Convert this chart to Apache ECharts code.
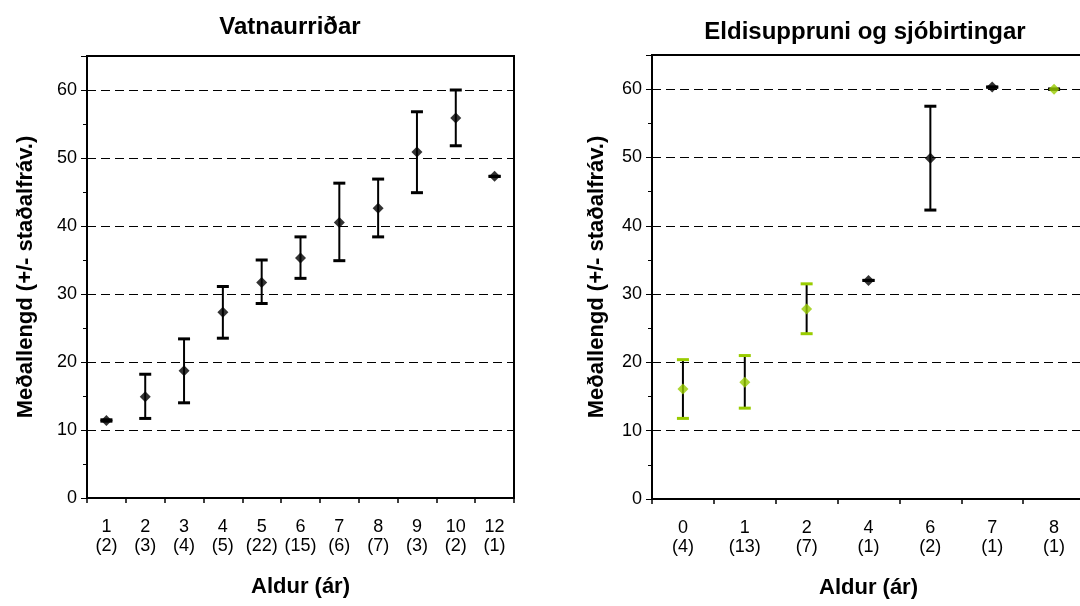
<!DOCTYPE html>
<html>
<head>
<meta charset="utf-8">
<script src="https://cdn.jsdelivr.net/npm/echarts@6/dist/echarts.min.js"></script>
<style>
html,body{margin:0;padding:0;background:#fff;}
#c{width:1080px;height:606px;}
</style>
</head>
<body>
<div id="c"></div>
<script>
// ---- Left panel: Vatnaurriðar ----
var leftAges  = ['1','2','3','4','5','6','7','8','9','10','12'];
var leftCount = ['2','3','4','5','22','15','6','7','3','2','1'];
var leftMean  = [11.4, 14.9, 18.7, 27.3, 31.7, 35.3, 40.5, 42.6, 50.9, 55.9, 47.3];
var leftLow   = [11.3, 11.7, 14.0, 23.5, 28.6, 32.3, 34.9, 38.4, 44.9, 51.8, 47.3];
var leftHigh  = [11.5, 18.2, 23.4, 31.1, 35.0, 38.4, 46.3, 46.9, 56.8, 60.0, 47.3];

// ---- Right panel: Eldisuppruni og sjóbirtingar ----
var rightAges  = ['0','1','2','4','6','7','8'];
var rightCount = ['4','13','7','1','2','1','1'];
var rightMean  = [16.1, 17.1, 27.8, 32.0, 49.9, 60.3, 60.0];
var rightLow   = [11.8, 13.3, 24.2, 32.0, 42.3, 60.3, 60.0];
var rightHigh  = [20.4, 21.0, 31.5, 32.0, 57.5, 60.3, 60.0];
var rightGroup = ['g','g','g','b','b','b','g'];   // g = green marker, b = black marker

var yTicks = [0, 10, 20, 30, 40, 50, 60];

var GREEN = '#99cc00', BLACK = '#000000';
var FONT = '"Liberation Sans", Arial, sans-serif';

function makeLabels(ages, counts) {
  return ages.map(function (a, i) { return a + '\n(' + counts[i] + ')'; });
}
function errData(low, high) {
  return low.map(function (l, i) { return [i, l, high[i]]; });
}
function meanData(mean) {
  return mean.map(function (m, i) { return [i, m]; });
}

function errRenderer(groups) {
  return function (params, api) {
    var i = api.value(0);
    var lo = api.coord([i, api.value(1)]);
    var hi = api.coord([i, api.value(2)]);
    var hw = 6;
    var capColor = BLACK;
    if (groups && groups[i] === 'g' && api.value(2) > api.value(1)) capColor = GREEN;
    return {
      type: 'group',
      children: [
        { type: 'line', shape: { x1: hi[0], y1: hi[1], x2: lo[0], y2: lo[1] },
          style: { stroke: BLACK, lineWidth: 2 } },
        { type: 'line', shape: { x1: hi[0] - hw, y1: hi[1], x2: hi[0] + hw, y2: hi[1] },
          style: { stroke: capColor, lineWidth: 3 } },
        { type: 'line', shape: { x1: lo[0] - hw, y1: lo[1], x2: lo[0] + hw, y2: lo[1] },
          style: { stroke: capColor, lineWidth: 3 } }
      ]
    };
  };
}

function xAxisDef(gridIndex, labels, nameGap) {
  return {
    type: 'category', gridIndex: gridIndex, data: labels, boundaryGap: true,
    name: 'Aldur (ár)', nameLocation: 'middle', nameGap: nameGap,
    nameTextStyle: { fontFamily: FONT, fontSize: 22, fontWeight: 'bold', color: '#000' },
    axisLine: { show: true, lineStyle: { color: '#000', width: 2 } },
    axisTick: { show: true, alignWithLabel: false, length: 5, lineStyle: { color: '#000', width: 1.5 } },
    axisLabel: { interval: 0, fontFamily: FONT, fontSize: 18, lineHeight: 19, color: '#000', margin: 20 },
    splitLine: { show: false }
  };
}
function yAxisMain(gridIndex, nameGap) {
  return {
    type: 'value', gridIndex: gridIndex, position: 'left', min: 0, max: 65, interval: 10,
    name: 'Meðallengd (+/- staðalfráv.)', nameLocation: 'middle', nameGap: nameGap,
    nameTextStyle: { fontFamily: FONT, fontSize: 22, fontWeight: 'bold', color: '#000' },
    axisLine: { show: true, lineStyle: { color: '#000', width: 2 } },
    axisTick: { show: true, length: 6, lineStyle: { color: '#000', width: 1 } },
    axisLabel: {
      fontFamily: FONT, fontSize: 18, color: '#000', margin: 10,
      formatter: function (v) { return yTicks.indexOf(v) >= 0 ? String(v) : ''; }
    },
    splitLine: { show: true, lineStyle: { color: '#000', width: 1, type: [9, 5] } }
  };
}
function yAxisMinor(gridIndex) {
  return {
    type: 'value', gridIndex: gridIndex, position: 'left', min: 0, max: 65, interval: 5,
    axisLine: { show: false },
    axisTick: { show: true, length: 4, lineStyle: { color: '#000', width: 1 } },
    axisLabel: { show: false },
    splitLine: { show: false }
  };
}

var chart = echarts.init(document.getElementById('c'), null, { renderer: 'canvas' });
chart.setOption({
  backgroundColor: '#fff',
  animation: false,
  title: [
    { text: 'Vatnaurriðar', left: 290, top: 15, textAlign: 'center', padding: 0,
      textStyle: { fontFamily: FONT, fontSize: 24, fontWeight: 'bold', color: '#000' } },
    { text: 'Eldisuppruni og sjóbirtingar', left: 865, top: 20, textAlign: 'center', padding: 0,
      textStyle: { fontFamily: FONT, fontSize: 24, fontWeight: 'bold', color: '#000' } }
  ],
  grid: [
    { left: 87, right: 566, top: 56, bottom: 108, show: true, borderColor: '#000', borderWidth: 2,
      backgroundColor: 'transparent', containLabel: false, outerBoundsMode: 'none' },
    { left: 652, right: -5, top: 55, bottom: 107, show: true, borderColor: '#000', borderWidth: 2,
      backgroundColor: 'transparent', containLabel: false, outerBoundsMode: 'none' }
  ],
  xAxis: [
    xAxisDef(0, makeLabels(leftAges, leftCount), 78),
    xAxisDef(1, makeLabels(rightAges, rightCount), 78)
  ],
  yAxis: [
    yAxisMain(0, 50), yAxisMinor(0),
    yAxisMain(1, 44), yAxisMinor(1)
  ],
  series: [
    { type: 'custom', xAxisIndex: 0, yAxisIndex: 0, data: errData(leftLow, leftHigh),
      renderItem: errRenderer(null), z: 3, silent: true },
    { type: 'scatter', xAxisIndex: 0, yAxisIndex: 0, data: meanData(leftMean),
      symbol: 'diamond', symbolSize: 11, itemStyle: { color: BLACK }, z: 4 },
    { type: 'custom', xAxisIndex: 1, yAxisIndex: 2, data: errData(rightLow, rightHigh),
      renderItem: errRenderer(rightGroup), z: 3, silent: true },
    { type: 'scatter', xAxisIndex: 1, yAxisIndex: 2, data: meanData(rightMean),
      symbol: 'diamond', symbolSize: 11, z: 4,
      itemStyle: { color: function (p) { return rightGroup[p.dataIndex] === 'g' ? GREEN : BLACK; } } }
  ]
});
</script>
</body>
</html>
